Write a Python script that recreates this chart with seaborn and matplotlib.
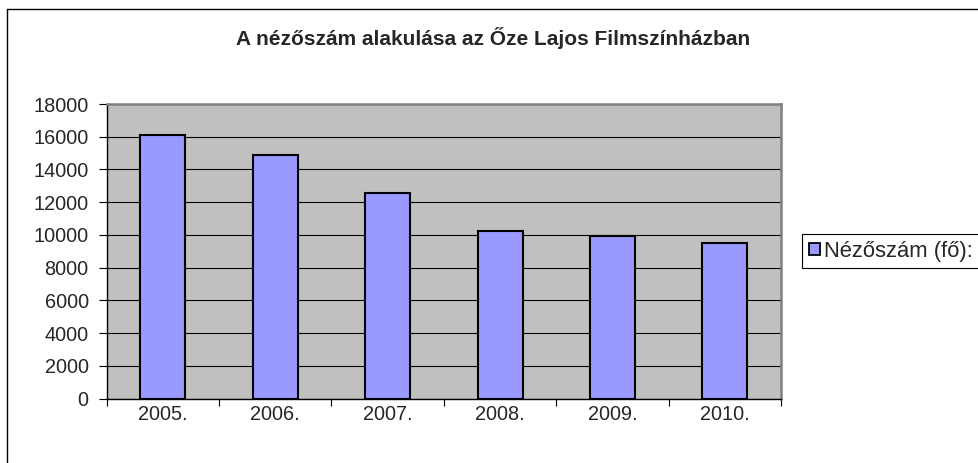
import matplotlib
matplotlib.use("Agg")
import matplotlib.pyplot as plt
import seaborn as sns
import pandas as pd
from matplotlib.lines import Line2D
from matplotlib.ticker import FixedLocator

# data
YEARS = ["2005.", "2006.", "2007.", "2008.", "2009.", "2010."]
VIEWERS = [16120, 14900, 12530, 10230, 9960, 9530]
Y_TICKS = list(range(0, 18001, 2000))

TITLE = "A nézőszám alakulása az Őze Lajos Filmszínházban"
SERIES = "Nézőszám (fő):"

sns.set_theme(style="white")
plt.rcParams["font.family"] = ["Liberation Sans", "DejaVu Sans"]

df = pd.DataFrame({"Év": YEARS, "Nézőszám": VIEWERS})

W, H = 979, 463
fig = plt.figure(figsize=(W / 100, H / 100), dpi=100)
fig.patch.set_facecolor("white")

# plot area in pixel coords: x 106.7..781, y 104..398.5
left, right, top, bottom = 106.7, 781, 104, 398.5
ax = fig.add_axes([left / W, 1 - bottom / H, (right - left) / W, (bottom - top) / H])
ax.set_facecolor("#C0C0C0")

sns.barplot(data=df, x="Év", y="Nézőszám", color="#9999FF", width=0.4,
            edgecolor="black", linewidth=1.5, saturation=1, ax=ax, zorder=3)
for p in ax.patches:
    p.set_facecolor("#9999FF")

ax.set_xlim(-0.5, len(YEARS) - 0.5)
ax.set_ylim(0, 18000)
ax.set_yticks(Y_TICKS)
ax.set_yticklabels([str(t) for t in Y_TICKS])
ax.set_xlabel("")
ax.set_ylabel("")

ax.yaxis.grid(True, color="black", linewidth=0.8, zorder=0)
ax.set_axisbelow(True)

ax.tick_params(axis="y", which="major", direction="out", length=6, width=0.8,
               color="black", pad=7, labelsize=14.3, left=True)
ax.tick_params(axis="x", which="major", length=0, pad=5, labelsize=14.3)
ax.xaxis.set_minor_locator(FixedLocator([i - 0.5 for i in range(len(YEARS) + 1)]))
ax.tick_params(axis="x", which="minor", direction="out", length=5, width=0.8,
               color="black", bottom=True)

for s in ["left", "bottom"]:
    ax.spines[s].set_color("black")
    ax.spines[s].set_linewidth(1.0)
for s in ["top", "right"]:
    ax.spines[s].set_color("#808080")
    ax.spines[s].set_linewidth(1.8)

fig.text(493 / W, 1 - 38 / H, TITLE, ha="center", va="center",
         fontsize=15, fontweight="bold")

handle = plt.Rectangle((0, 0), 1, 1, facecolor="#9999FF", edgecolor="black", linewidth=1.3)
leg = fig.legend([handle], [SERIES], loc="upper left",
                 bbox_to_anchor=(802 / W, 1 - 234 / H), fontsize=15.8,
                 frameon=True, fancybox=False, edgecolor="black", framealpha=1,
                 handlelength=0.5, handleheight=0.5, handletextpad=0.2,
                 borderpad=0.3, borderaxespad=0)
leg.get_frame().set_linewidth(0.8)

# outer chart border (only top and left visible in the reference)
fig.add_artist(Line2D([7 / W, 7 / W], [0, 1 - 9 / H], color="black", linewidth=1.0))
fig.add_artist(Line2D([7 / W, 1], [1 - 9 / H, 1 - 9 / H], color="black", linewidth=1.0))

fig.savefig("out.png", dpi=100, facecolor="white")
